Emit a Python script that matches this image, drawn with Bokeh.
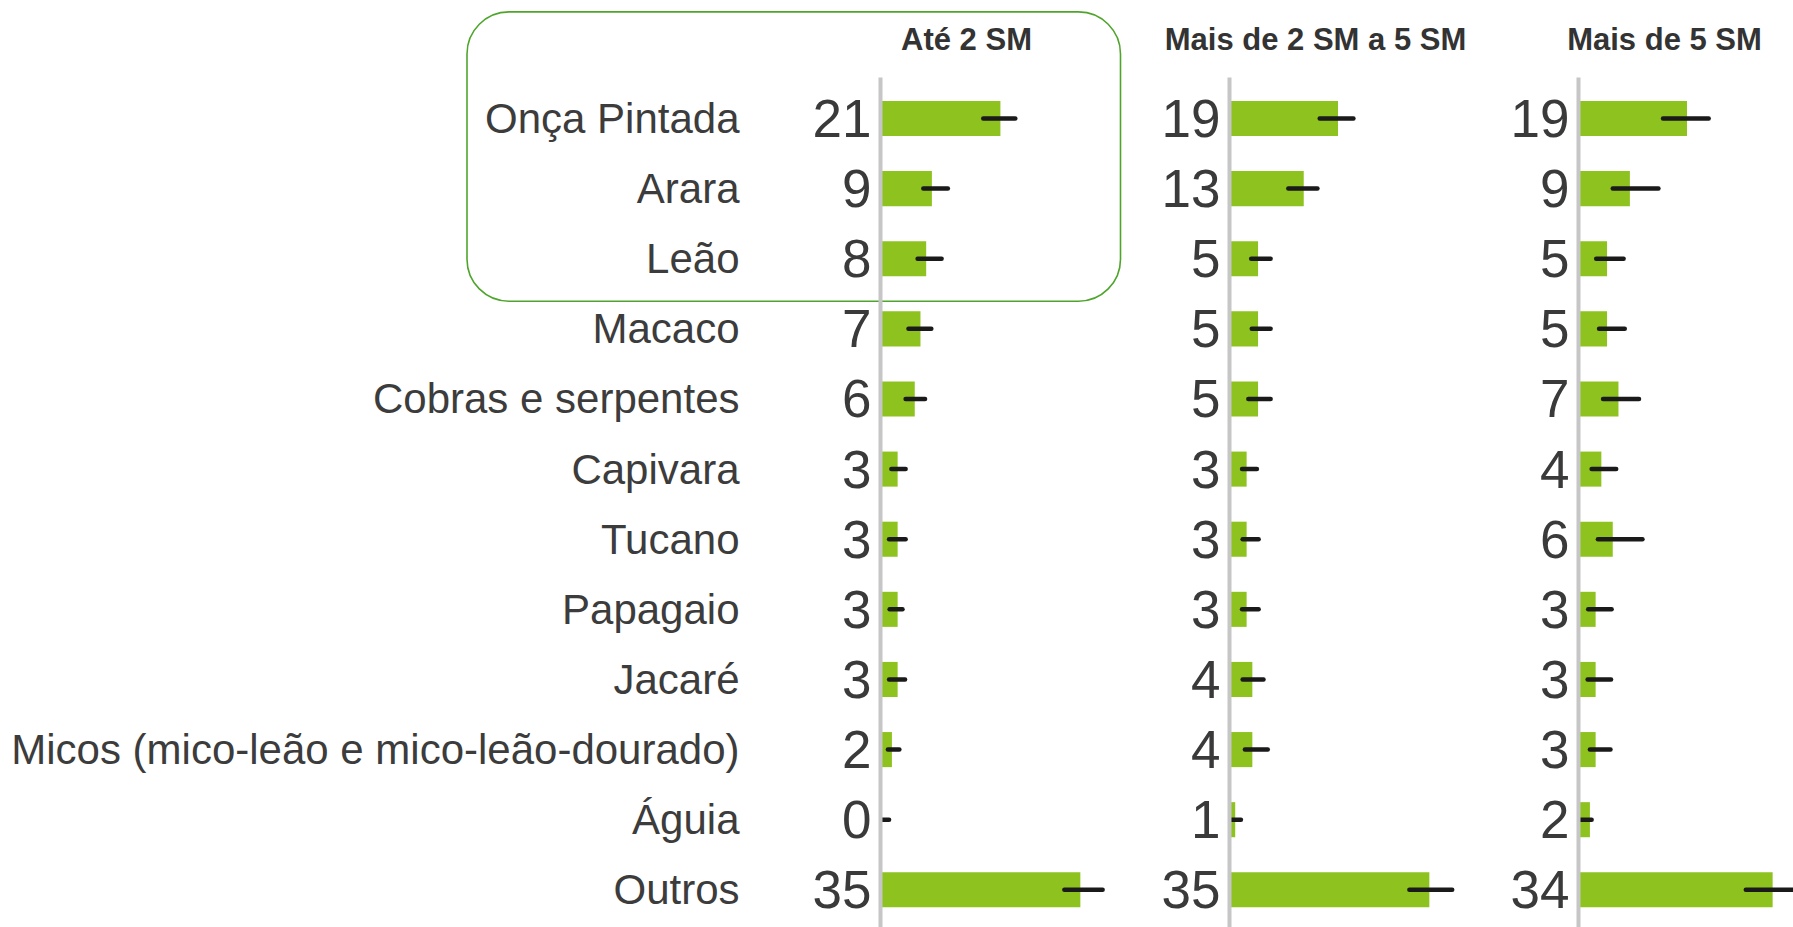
from bokeh.plotting import figure
from bokeh.models import Range1d, ColumnDataSource, BoxAnnotation
from bokeh.core.properties import value
from bokeh.embed import file_html
from bokeh.resources import INLINE

# ---------------- data ----------------
categories = ["Onça Pintada", "Arara", "Leão", "Macaco", "Cobras e serpentes",
              "Capivara", "Tucano", "Papagaio", "Jacaré",
              "Micos (mico-leão e mico-leão-dourado)", "Águia", "Outros"]
panel_titles = ["Até 2 SM", "Mais de 2 SM a 5 SM", "Mais de 5 SM"]

ate2 = [21, 9, 8, 7, 6, 3, 3, 3, 3, 2, 0, 35]
ate2_lo = [18.0, 7.5, 6.5, 4.9, 4.4, 1.9, 1.5, 1.6, 1.5, 1.3, 0.2, 32.2]
ate2_hi = [23.6, 11.8, 10.7, 8.9, 7.8, 4.4, 4.4, 3.85, 4.3, 3.3, 1.5, 38.9]

de2a5 = [19, 13, 5, 5, 5, 3, 3, 3, 4, 4, 1, 35]
de2a5_lo = [15.8, 10.3, 3.8, 3.9, 3.3, 2.2, 2.3, 2.2, 2.3, 2.7, 0.3, 31.5]
de2a5_hi = [21.7, 15.4, 7.2, 7.2, 7.2, 4.8, 5.1, 5.1, 5.95, 6.7, 2.0, 39.0]

mais5 = [19, 9, 5, 5, 7, 4, 6, 3, 3, 3, 2, 34]
mais5_lo = [14.8, 6.0, 3.1, 3.6, 4.3, 2.3, 3.4, 1.7, 1.6, 2.0, 0.35, 29.3]
mais5_hi = [22.8, 14.0, 7.9, 8.1, 10.6, 6.6, 11.2, 5.8, 5.7, 5.6, 2.3, 39.5]

series = [(ate2, ate2_lo, ate2_hi), (de2a5, de2a5_lo, de2a5_hi), (mais5, mais5_lo, mais5_hi)]

# ---------------- layout ----------------
W, H = 1793, 927
PX_PER_UNIT = 5.71
ROW_PX = 70.12
FIRST_ROW_PX = 118
AXIS_PX = [880, 1229, 1578]
FONT = value("Liberation Sans")
GREEN = "#8dc21f"


def row_of(px):
    return (px - FIRST_ROW_PX) / ROW_PX


y_range = Range1d(start=row_of(H), end=row_of(0))
x_range = Range1d(start=-AXIS_PX[0] / PX_PER_UNIT, end=(W - AXIS_PX[0]) / PX_PER_UNIT)

p = figure(width=W, height=H, x_range=x_range, y_range=y_range,
           output_backend="svg", toolbar_location=None, min_border=0)
p.axis.visible = False
p.grid.visible = False
p.outline_line_color = None
p.background_fill_color = "white"
p.border_fill_color = "white"

range_names = ["default", "p2", "p3"]
for k in (1, 2):
    p.extra_x_ranges[range_names[k]] = Range1d(start=-AXIS_PX[k] / PX_PER_UNIT,
                                               end=(W - AXIS_PX[k]) / PX_PER_UNIT)

# rounded highlight box (around first three rows of first panel + labels)
box = BoxAnnotation(left=(466.5 - AXIS_PX[0]) / PX_PER_UNIT,
                    right=(1120 - AXIS_PX[0]) / PX_PER_UNIT,
                    top=row_of(11.4), bottom=row_of(300.7),
                    fill_alpha=0, line_color="#4fa52c", line_alpha=1.0,
                    line_width=1.6, border_radius=42, level="underlay")
p.add_layout(box)

idx = list(range(len(categories)))

for k, (vals, lo, hi) in enumerate(series):
    rn = range_names[k]
    src = ColumnDataSource(dict(y=idx, v=vals, lo=lo, hi=hi,
                                lab=[str(v) for v in vals], zero=[0] * len(vals)))
    p.hbar(y="y", left=0, right="v", height=0.5, source=src, x_range_name=rn,
           fill_color=GREEN, line_color=None)
    p.segment(x0="lo", x1="hi", y0="y", y1="y", source=src, x_range_name=rn,
              line_color="#1a1a1a", line_width=4.5, line_cap="round")
    # vertical gray axis line
    p.segment(x0=[0], x1=[0], y0=[row_of(77)], y1=[row_of(H + 10)],
              x_range_name=rn, line_color="#c6c6c6", line_width=4)
    # value labels
    p.text(x="zero", y="y", text="lab", source=src, x_range_name=rn,
           text_align="right", text_baseline="middle", x_offset=-9,
           text_font=FONT, text_font_size="53px", text_color="#3a3a3a")
    # panel title
    p.text(x=[0], y=[row_of(39)], text=[panel_titles[k]],
           x_range_name=rn, x_offset=86, text_align="center",
           text_baseline="middle", text_font=FONT, text_font_size="31px",
           text_font_style="bold", text_color="#333333")

# category labels
lab_src = ColumnDataSource(dict(y=idx, t=categories, zero=[0] * len(idx)))
p.text(x="zero", y="y", text="t", source=lab_src, x_offset=-141,
       text_align="right", text_baseline="middle", text_font=FONT,
       text_font_size="42px", text_color="#3c3c3c")

open("out.html", "w").write(file_html(p, INLINE))
